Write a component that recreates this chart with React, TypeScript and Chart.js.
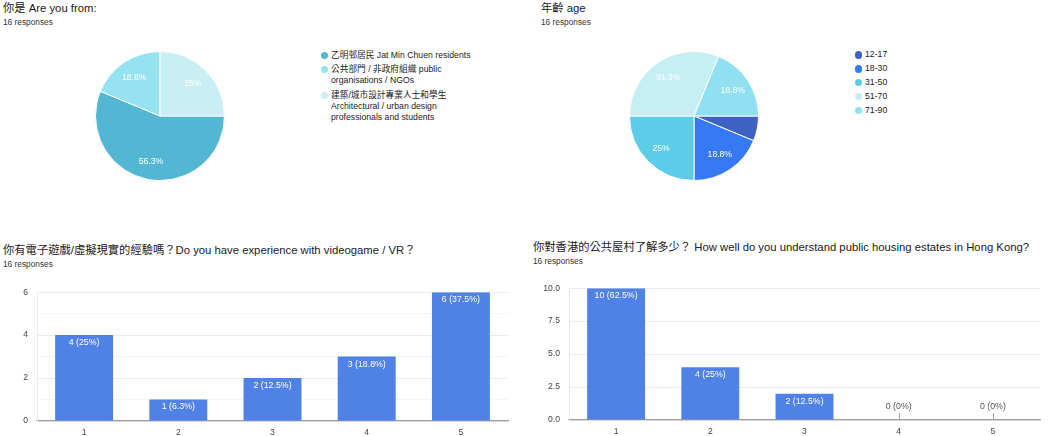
import React, { useEffect, useRef } from 'react';
import { Chart, registerables } from 'chart.js';

Chart.register(...registerables);

const FONT = '"Liberation Sans", Arial, "Noto Sans CJK TC", "Noto Sans CJK SC", sans-serif';
const RESPONSES = 16;
const responsesText = '16 responses';

// Pie 1: origin
const originTitle = '你是 Are you from:';
const originLabels = [
  '乙明邨居民 Jat Min Chuen residents',
  '公共部門 / 非政府組織 public organisations / NGOs',
  '建築/城市設計專業人士和學生 Architectural / urban design professionals and students',
];
const originLegendLines = [
  ['乙明邨居民 Jat Min Chuen residents'],
  ['公共部門 / 非政府組織 public', 'organisations / NGOs'],
  ['建築/城市設計專業人士和學生', 'Architectural / urban design', 'professionals and students'],
];
const originValues = [9, 3, 4];
const originColors = ['#53b7d3', '#95e3f2', '#c9eef5'];

// Pie 2: age
const ageTitle = '年齡 age';
const ageLabels = ['12-17', '18-30', '31-50', '51-70', '71-90'];
const ageLegendLines = ageLabels.map((l) => [l]);
const ageValues = [1, 3, 4, 5, 3];
const ageColors = ['#3d62c4', '#3679f5', '#5bcde8', '#c7eef5', '#8fe0f0'];

// Bar 1: videogame / VR experience
const gameTitle = '你有電子遊戲/虛擬現實的經驗嗎？Do you have experience with videogame / VR？';
const gameCategories = ['1', '2', '3', '4', '5'];
const gameValues = [4, 1, 2, 3, 6];
const gameMax = 6;
const gameStep = 1;
const gameLabelEvery = 2;

// Bar 2: understanding of public housing
const housingTitle = '你對香港的公共屋村了解多少？ How well do you understand public housing estates in Hong Kong?';
const housingCategories = ['1', '2', '3', '4', '5'];
const housingValues = [10, 4, 2, 0, 0];
const housingMax = 10;
const housingStep = 2.5;

const BAR_COLOR = '#4f81e6';

const pct = (v: number) => Math.round((v / RESPONSES) * 1000) / 10;

const pieLabelPlugin = {
  id: 'pieLabels',
  afterDatasetsDraw(chart: any) {
    const ctx = chart.ctx;
    const meta = chart.getDatasetMeta(0);
    const data = chart.data.datasets[0].data as number[];
    ctx.save();
    ctx.font = `8.6px ${FONT}`;
    ctx.textAlign = 'center';
    ctx.textBaseline = 'middle';
    ctx.fillStyle = '#ffffff';
    meta.data.forEach((arc: any, i: number) => {
      const p = pct(data[i]);
      if (p < 10) return;
      const { x, y, startAngle, endAngle, outerRadius } = arc.getProps(
        ['x', 'y', 'startAngle', 'endAngle', 'outerRadius'],
        true
      );
      const mid = (startAngle + endAngle) / 2;
      const r = outerRadius * 0.72;
      ctx.fillText(`${p}%`, x + Math.cos(mid) * r, y + Math.sin(mid) * r);
    });
    ctx.restore();
  },
};

const barLabelPlugin = {
  id: 'barLabels',
  afterDatasetsDraw(chart: any) {
    const ctx = chart.ctx;
    const meta = chart.getDatasetMeta(0);
    const data = chart.data.datasets[0].data as number[];
    const base = chart.scales.y.getPixelForValue(0);
    ctx.save();
    ctx.font = `8.8px ${FONT}`;
    ctx.textAlign = 'center';
    ctx.textBaseline = 'middle';
    meta.data.forEach((bar: any, i: number) => {
      const v = data[i];
      const text = `${v} (${pct(v)}%)`;
      if (v > 0) {
        ctx.fillStyle = '#ffffff';
        ctx.fillText(text, bar.x, bar.y + 7.5);
      } else {
        ctx.strokeStyle = '#9e9e9e';
        ctx.lineWidth = 1;
        ctx.beginPath();
        ctx.moveTo(Math.round(bar.x) + 0.5, base);
        ctx.lineTo(Math.round(bar.x) + 0.5, base - 7);
        ctx.stroke();
        ctx.fillStyle = '#555555';
        ctx.fillText(text, bar.x, base - 13);
      }
    });
    ctx.restore();
  },
};

type PieProps = {
  values: number[];
  labels: string[];
  colors: string[];
  left: number;
  top: number;
  size: number;
};

function PieChart({ values, labels, colors, left, top, size }: PieProps) {
  const ref = useRef<HTMLCanvasElement | null>(null);
  useEffect(() => {
    if (!ref.current) return;
    const chart = new Chart(ref.current, {
      type: 'pie',
      data: {
        labels,
        datasets: [
          {
            data: values,
            backgroundColor: colors,
            borderColor: '#ffffff',
            borderWidth: 1,
            hoverOffset: 0,
            offset: 0,
          },
        ],
      },
      options: {
        responsive: false,
        animation: false,
        rotation: 90,
        layout: { padding: 0 },
        plugins: { legend: { display: false }, tooltip: { enabled: false } },
        events: [],
      },
      plugins: [pieLabelPlugin],
    });
    return () => chart.destroy();
  }, []);
  return (
    <canvas
      ref={ref}
      width={size}
      height={size}
      style={{ position: 'absolute', left, top, width: size, height: size }}
    />
  );
}

type BarProps = {
  values: number[];
  categories: string[];
  max: number;
  step: number;
  labelEvery: number;
  decimals: number;
  left: number;
  top: number;
  width: number;
  height: number;
  yWidth: number;
  xHeight: number;
  padTop: number;
  padRight: number;
};

function BarChart(p: BarProps) {
  const ref = useRef<HTMLCanvasElement | null>(null);
  useEffect(() => {
    if (!ref.current) return;
    const chart = new Chart(ref.current, {
      type: 'bar',
      data: {
        labels: p.categories,
        datasets: [
          {
            data: p.values,
            backgroundColor: BAR_COLOR,
            borderWidth: 0,
            categoryPercentage: 1,
            barPercentage: 0.615,
          },
        ],
      },
      options: {
        responsive: false,
        animation: false,
        events: [],
        layout: { padding: { top: p.padTop, right: p.padRight, left: 0, bottom: 0 } },
        plugins: { legend: { display: false }, tooltip: { enabled: false } },
        scales: {
          x: {
            grid: { display: false, drawTicks: false },
            border: { display: true, color: '#9e9e9e', width: 1.2 },
            ticks: {
              color: '#444444',
              padding: 6,
              font: { family: FONT, size: 8.6 },
            },
            afterFit: (scale: any) => {
              scale.height = p.xHeight;
            },
          },
          y: {
            min: 0,
            max: p.max,
            grid: {
              drawTicks: false,
              color: (c: any) => {
                const v = c.tick ? c.tick.value : 0;
                const ratio = v / (p.step * p.labelEvery);
                return Math.abs(ratio - Math.round(ratio)) < 1e-6 ? '#ebebeb' : '#f5f5f5';
              },
              lineWidth: 1,
            },
            border: { display: true, color: '#ececec', width: 1 },
            ticks: {
              stepSize: p.step,
              padding: 9,
              color: '#444444',
              font: { family: FONT, size: 8.6 },
              callback: (val: any) => {
                const v = Number(val);
                const ratio = v / (p.step * p.labelEvery);
                if (Math.abs(ratio - Math.round(ratio)) > 1e-6) return '';
                return v.toFixed(p.decimals);
              },
            },
            afterFit: (scale: any) => {
              scale.width = p.yWidth;
            },
          },
        },
      },
      plugins: [barLabelPlugin],
    });
    return () => chart.destroy();
  }, []);
  return (
    <canvas
      ref={ref}
      width={p.width}
      height={p.height}
      style={{ position: 'absolute', left: p.left, top: p.top, width: p.width, height: p.height }}
    />
  );
}

function Legend({
  lines,
  colors,
  left,
  top,
  gap,
}: {
  lines: string[][];
  colors: string[];
  left: number;
  top: number;
  gap: number;
}) {
  return (
    <div
      style={{
        position: 'absolute',
        left,
        top,
        display: 'flex',
        flexDirection: 'column',
        gap,
        fontFamily: FONT,
        fontSize: 8.7,
        lineHeight: '11.3px',
        color: '#222222',
        whiteSpace: 'nowrap',
      }}
    >
      {lines.map((item, i) => (
        <div key={i} style={{ position: 'relative', paddingLeft: 10.5 }}>
          <span
            style={{
              position: 'absolute',
              left: 0,
              top: 1.9,
              width: 7.5,
              height: 7.5,
              borderRadius: '50%',
              background: colors[i],
            }}
          />
          {item.map((t, j) => (
            <div key={j}>{t}</div>
          ))}
        </div>
      ))}
    </div>
  );
}

function Heading({ title, left, top }: { title: string; left: number; top: number }) {
  return (
    <>
      <div
        style={{
          position: 'absolute',
          left,
          top,
          fontFamily: FONT,
          fontSize: 11.3,
          lineHeight: '13px',
          color: '#202124',
          whiteSpace: 'nowrap',
        }}
      >
        {title}
      </div>
      <div
        style={{
          position: 'absolute',
          left,
          top: top + 15,
          fontFamily: FONT,
          fontSize: 8.3,
          lineHeight: '10px',
          color: '#333333',
          whiteSpace: 'nowrap',
        }}
      >
        {responsesText}
      </div>
    </>
  );
}

export default function App() {
  return (
    <div
      style={{
        position: 'fixed',
        left: 0,
        top: 0,
        width: 1052,
        height: 436,
        overflow: 'hidden',
        background: '#ffffff',
      }}
    >
      <Heading title={originTitle} left={3} top={2} />
      <Heading title={ageTitle} left={541} top={2} />
      <Heading title={gameTitle} left={3} top={243.5} />
      <Heading title={housingTitle} left={533} top={241} />

      <PieChart values={originValues} labels={originLabels} colors={originColors} left={95} top={51} size={130} />
      <Legend lines={originLegendLines} colors={originColors} left={320.5} top={49.8} gap={3} />

      <PieChart values={ageValues} labels={ageLabels} colors={ageColors} left={629} top={51} size={130} />
      <Legend lines={ageLegendLines} colors={ageColors} left={854.5} top={49.3} gap={2.6} />

      <BarChart
        values={gameValues}
        categories={gameCategories}
        max={gameMax}
        step={gameStep}
        labelEvery={gameLabelEvery}
        decimals={0}
        left={0}
        top={278}
        width={520}
        height={158}
        yWidth={37}
        xHeight={15}
        padTop={2}
        padRight={12}
      />
      <BarChart
        values={housingValues}
        categories={housingCategories}
        max={housingMax}
        step={housingStep}
        labelEvery={1}
        decimals={1}
        left={520}
        top={274}
        width={532}
        height={162}
        yWidth={49}
        xHeight={16}
        padTop={2}
        padRight={12}
      />
    </div>
  );
}
